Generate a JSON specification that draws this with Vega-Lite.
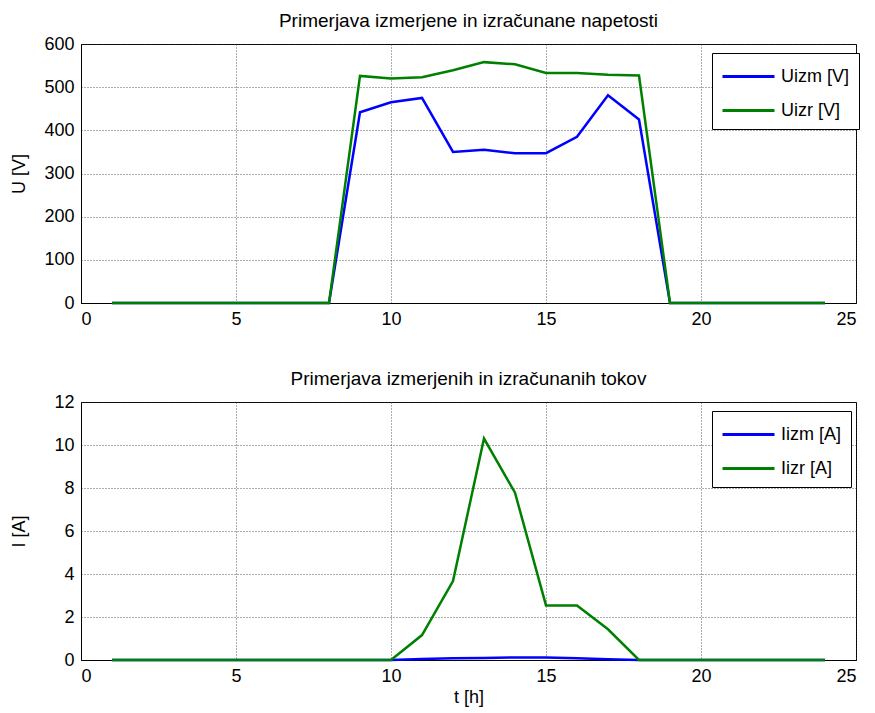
{
  "$schema": "https://vega.github.io/schema/vega-lite/v6.json",
  "padding": {"left": 9, "top": 11, "right": 5, "bottom": 5},
  "background": "white",
  "config": {
    "font": "Liberation Sans",
    "view": {"stroke": "black", "strokeWidth": 1},
    "axis": {
      "labelFont": "Liberation Sans",
      "titleFont": "Liberation Sans",
      "labelFontSize": 18,
      "titleFontSize": 18,
      "titleFontWeight": "normal",
      "labelColor": "black",
      "titleColor": "black",
      "domainColor": "black",
      "ticks": false,
      "labelPadding": 7,
      "gridColor": "#333333",
      "gridDash": [1, 2],
      "gridOpacity": 0.8,
      "grid": true
    },
    "title": {"font": "Liberation Sans", "fontSize": 19, "fontWeight": "normal", "color": "black", "offset": 4},
    "legend": {
      "orient": "none",
      "legendX": 631,
      "legendY": 9,
      "strokeColor": "black",
      "fillColor": "white",
      "padding": 9,
      "labelFont": "Liberation Sans",
      "labelFontSize": 18,
      "labelColor": "black",
      "labelOffset": 31,
      "symbolType": "M-1,0L3,0",
      "symbolStrokeWidth": 3,
      "symbolSize": 676,
      "rowPadding": 10,
      "title": null
    }
  },
  "bounds": "flush",
  "spacing": 99,
  "vconcat": [
    {
      "width": 775,
      "height": 259,
      "title": "Primerjava izmerjene in izračunane napetosti",
      "data": {"values": [
        {"t": 1, "U": 0, "s": "Uizm [V]"}, {"t": 2, "U": 0, "s": "Uizm [V]"}, {"t": 3, "U": 0, "s": "Uizm [V]"}, {"t": 4, "U": 0, "s": "Uizm [V]"},
        {"t": 5, "U": 0, "s": "Uizm [V]"}, {"t": 6, "U": 0, "s": "Uizm [V]"}, {"t": 7, "U": 0, "s": "Uizm [V]"}, {"t": 8, "U": 0, "s": "Uizm [V]"},
        {"t": 9, "U": 442, "s": "Uizm [V]"}, {"t": 10, "U": 465, "s": "Uizm [V]"}, {"t": 11, "U": 475, "s": "Uizm [V]"}, {"t": 12, "U": 350, "s": "Uizm [V]"},
        {"t": 13, "U": 355, "s": "Uizm [V]"}, {"t": 14, "U": 347, "s": "Uizm [V]"}, {"t": 15, "U": 347, "s": "Uizm [V]"}, {"t": 16, "U": 385, "s": "Uizm [V]"},
        {"t": 17, "U": 481, "s": "Uizm [V]"}, {"t": 18, "U": 425, "s": "Uizm [V]"}, {"t": 19, "U": 0, "s": "Uizm [V]"}, {"t": 20, "U": 0, "s": "Uizm [V]"},
        {"t": 21, "U": 0, "s": "Uizm [V]"}, {"t": 22, "U": 0, "s": "Uizm [V]"}, {"t": 23, "U": 0, "s": "Uizm [V]"}, {"t": 24, "U": 0, "s": "Uizm [V]"},
        {"t": 1, "U": 0, "s": "Uizr [V]"}, {"t": 2, "U": 0, "s": "Uizr [V]"}, {"t": 3, "U": 0, "s": "Uizr [V]"}, {"t": 4, "U": 0, "s": "Uizr [V]"},
        {"t": 5, "U": 0, "s": "Uizr [V]"}, {"t": 6, "U": 0, "s": "Uizr [V]"}, {"t": 7, "U": 0, "s": "Uizr [V]"}, {"t": 8, "U": 0, "s": "Uizr [V]"},
        {"t": 9, "U": 526, "s": "Uizr [V]"}, {"t": 10, "U": 520, "s": "Uizr [V]"}, {"t": 11, "U": 523, "s": "Uizr [V]"}, {"t": 12, "U": 539, "s": "Uizr [V]"},
        {"t": 13, "U": 558, "s": "Uizr [V]"}, {"t": 14, "U": 553, "s": "Uizr [V]"}, {"t": 15, "U": 533, "s": "Uizr [V]"}, {"t": 16, "U": 533, "s": "Uizr [V]"},
        {"t": 17, "U": 529, "s": "Uizr [V]"}, {"t": 18, "U": 527, "s": "Uizr [V]"}, {"t": 19, "U": 0, "s": "Uizr [V]"}, {"t": 20, "U": 0, "s": "Uizr [V]"},
        {"t": 21, "U": 0, "s": "Uizr [V]"}, {"t": 22, "U": 0, "s": "Uizr [V]"}, {"t": 23, "U": 0, "s": "Uizr [V]"}, {"t": 24, "U": 0, "s": "Uizr [V]"}
      ]},
      "mark": {"type": "line", "strokeWidth": 2.5},
      "encoding": {
        "x": {"field": "t", "type": "quantitative", "scale": {"domain": [0, 25], "nice": false}, "axis": {"values": [0, 5, 10, 15, 20, 25], "title": null}},
        "y": {"field": "U", "type": "quantitative", "scale": {"domain": [0, 600], "nice": false}, "axis": {"values": [0, 100, 200, 300, 400, 500, 600], "title": "U [V]", "titleX": -53}},
        "color": {"field": "s", "type": "nominal", "scale": {"domain": ["Uizm [V]", "Uizr [V]"], "range": ["#0000ff", "#008000"]}}
      }
    },
    {
      "width": 775,
      "height": 258,
      "title": "Primerjava izmerjenih in izračunanih tokov",
      "data": {"values": [
        {"t": 1, "I": 0, "s": "Iizm [A]"}, {"t": 2, "I": 0, "s": "Iizm [A]"}, {"t": 3, "I": 0, "s": "Iizm [A]"}, {"t": 4, "I": 0, "s": "Iizm [A]"},
        {"t": 5, "I": 0, "s": "Iizm [A]"}, {"t": 6, "I": 0, "s": "Iizm [A]"}, {"t": 7, "I": 0, "s": "Iizm [A]"}, {"t": 8, "I": 0, "s": "Iizm [A]"},
        {"t": 9, "I": 0, "s": "Iizm [A]"}, {"t": 10, "I": 0, "s": "Iizm [A]"}, {"t": 11, "I": 0.05, "s": "Iizm [A]"}, {"t": 12, "I": 0.08, "s": "Iizm [A]"},
        {"t": 13, "I": 0.09, "s": "Iizm [A]"}, {"t": 14, "I": 0.12, "s": "Iizm [A]"}, {"t": 15, "I": 0.12, "s": "Iizm [A]"}, {"t": 16, "I": 0.08, "s": "Iizm [A]"},
        {"t": 17, "I": 0.03, "s": "Iizm [A]"}, {"t": 18, "I": 0, "s": "Iizm [A]"}, {"t": 19, "I": 0, "s": "Iizm [A]"}, {"t": 20, "I": 0, "s": "Iizm [A]"},
        {"t": 21, "I": 0, "s": "Iizm [A]"}, {"t": 22, "I": 0, "s": "Iizm [A]"}, {"t": 23, "I": 0, "s": "Iizm [A]"}, {"t": 24, "I": 0, "s": "Iizm [A]"},
        {"t": 1, "I": 0, "s": "Iizr [A]"}, {"t": 2, "I": 0, "s": "Iizr [A]"}, {"t": 3, "I": 0, "s": "Iizr [A]"}, {"t": 4, "I": 0, "s": "Iizr [A]"},
        {"t": 5, "I": 0, "s": "Iizr [A]"}, {"t": 6, "I": 0, "s": "Iizr [A]"}, {"t": 7, "I": 0, "s": "Iizr [A]"}, {"t": 8, "I": 0, "s": "Iizr [A]"},
        {"t": 9, "I": 0, "s": "Iizr [A]"}, {"t": 10, "I": 0, "s": "Iizr [A]"}, {"t": 11, "I": 1.16, "s": "Iizr [A]"}, {"t": 12, "I": 3.67, "s": "Iizr [A]"},
        {"t": 13, "I": 10.3, "s": "Iizr [A]"}, {"t": 14, "I": 7.78, "s": "Iizr [A]"}, {"t": 15, "I": 2.54, "s": "Iizr [A]"}, {"t": 16, "I": 2.54, "s": "Iizr [A]"},
        {"t": 17, "I": 1.43, "s": "Iizr [A]"}, {"t": 18, "I": 0, "s": "Iizr [A]"}, {"t": 19, "I": 0, "s": "Iizr [A]"}, {"t": 20, "I": 0, "s": "Iizr [A]"},
        {"t": 21, "I": 0, "s": "Iizr [A]"}, {"t": 22, "I": 0, "s": "Iizr [A]"}, {"t": 23, "I": 0, "s": "Iizr [A]"}, {"t": 24, "I": 0, "s": "Iizr [A]"}
      ]},
      "mark": {"type": "line", "strokeWidth": 2.5},
      "encoding": {
        "x": {"field": "t", "type": "quantitative", "scale": {"domain": [0, 25], "nice": false}, "axis": {"values": [0, 5, 10, 15, 20, 25], "title": "t [h]", "titlePadding": 3}},
        "y": {"field": "I", "type": "quantitative", "scale": {"domain": [0, 12], "nice": false}, "axis": {"values": [0, 2, 4, 6, 8, 10, 12], "title": "I [A]", "titleX": -53}},
        "color": {"field": "s", "type": "nominal", "scale": {"domain": ["Iizm [A]", "Iizr [A]"], "range": ["#0000ff", "#008000"]}}
      }
    }
  ],
  "resolve": {"scale": {"color": "independent"}, "legend": {"color": "independent"}}
}
